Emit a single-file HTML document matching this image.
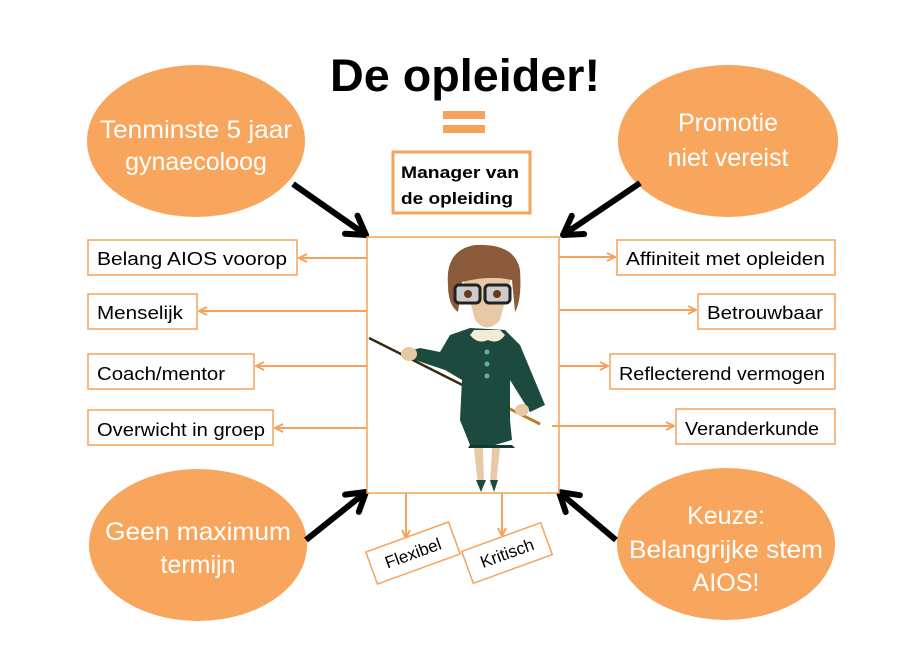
<!DOCTYPE html>
<html><head><meta charset="utf-8"><style>
body{margin:0;background:#fff;}
svg{display:block;font-family:"Liberation Sans",sans-serif;}
</style></head><body>
<svg width="904" height="648" viewBox="0 0 904 648" xmlns="http://www.w3.org/2000/svg">
<defs>
<marker id="oa" markerWidth="10" markerHeight="10" refX="9" refY="5" orient="auto" markerUnits="userSpaceOnUse"><path d="M1,1 L9,5 L1,9" fill="none" stroke="#F5A35C" stroke-width="2"/></marker>
<marker id="ba" markerWidth="30" markerHeight="30" refX="24" refY="15" orient="auto" markerUnits="userSpaceOnUse"><path d="M6,4 L24,15 L6,26" fill="none" stroke="#000" stroke-width="6" stroke-linecap="round" stroke-linejoin="round"/></marker>
</defs>
<text x="465" y="91" text-anchor="middle" font-size="45" font-weight="bold" fill="#000" textLength="270" lengthAdjust="spacingAndGlyphs">De opleider!</text>
<rect x="443" y="111" width="42" height="8" fill="#F5A35C"/>
<rect x="443" y="125" width="42" height="8" fill="#F5A35C"/>
<rect x="393" y="152" width="137" height="61" fill="#fff" stroke="#F5A35C" stroke-width="3"/>
<text x="401" y="178" font-size="17" font-weight="bold" textLength="118" lengthAdjust="spacingAndGlyphs">Manager van</text>
<text x="401" y="204" font-size="17" font-weight="bold" textLength="112" lengthAdjust="spacingAndGlyphs">de opleiding</text>

<g fill="#F8A65E">
<ellipse cx="196" cy="141" rx="109" ry="76"/>
<ellipse cx="728" cy="141" rx="110" ry="76"/>
<ellipse cx="198" cy="545" rx="109" ry="76"/>
<ellipse cx="726" cy="544" rx="109" ry="76"/>
</g>
<g fill="#fff" font-size="25" text-anchor="middle">
<text x="196" y="138" textLength="192" lengthAdjust="spacingAndGlyphs">Tenminste 5 jaar</text>
<text x="196" y="170">gynaecoloog</text>
<text x="728" y="131">Promotie</text>
<text x="728" y="166">niet vereist</text>
<text x="198" y="540" textLength="186" lengthAdjust="spacingAndGlyphs">Geen maximum</text>
<text x="198" y="573">termijn</text>
<text x="726" y="524">Keuze:</text>
<text x="726" y="558" textLength="194" lengthAdjust="spacingAndGlyphs">Belangrijke stem</text>
<text x="726" y="591">AIOS!</text>
</g>

<g stroke="#000" stroke-width="6" fill="none">
<line x1="293" y1="184" x2="366" y2="235" marker-end="url(#ba)"/>
<line x1="640" y1="183" x2="563" y2="235" marker-end="url(#ba)"/>
<line x1="306" y1="540" x2="366" y2="492" marker-end="url(#ba)"/>
<line x1="616" y1="540" x2="559" y2="492" marker-end="url(#ba)"/>
</g>

<rect x="367" y="237" width="192" height="256" fill="#fff" stroke="#F5A35C" stroke-width="1.5"/>

<g fill="#fff" stroke="#F5A35C" stroke-width="1.5">
<rect x="88" y="240" width="209" height="35"/>
<rect x="88" y="294" width="109" height="35"/>
<rect x="88" y="354" width="166" height="35"/>
<rect x="88" y="410" width="185" height="35"/>
<rect x="617" y="240" width="218" height="35"/>
<rect x="698" y="294" width="137" height="35"/>
<rect x="610" y="354" width="225" height="35"/>
<rect x="676" y="409" width="159" height="35"/>
</g>
<g font-size="18" fill="#000" lengthAdjust="spacingAndGlyphs">
<text x="97" y="265" textLength="190" lengthAdjust="spacingAndGlyphs">Belang AIOS voorop</text>
<text x="97" y="319" textLength="86" lengthAdjust="spacingAndGlyphs">Menselijk</text>
<text x="97" y="380" textLength="128" lengthAdjust="spacingAndGlyphs">Coach/mentor</text>
<text x="97" y="436" textLength="168" lengthAdjust="spacingAndGlyphs">Overwicht in groep</text>
<text x="626" y="265" textLength="199" lengthAdjust="spacingAndGlyphs">Affiniteit met opleiden</text>
<text x="707" y="319" textLength="116" lengthAdjust="spacingAndGlyphs">Betrouwbaar</text>
<text x="619" y="380" textLength="206" lengthAdjust="spacingAndGlyphs">Reflecterend vermogen</text>
<text x="685" y="435" textLength="134" lengthAdjust="spacingAndGlyphs">Veranderkunde</text>
</g>
<g stroke="#F5A35C" stroke-width="2" fill="none">
<line x1="367" y1="258" x2="299" y2="258" marker-end="url(#oa)"/>
<line x1="367" y1="311" x2="199" y2="311" marker-end="url(#oa)"/>
<line x1="367" y1="366" x2="256" y2="366" marker-end="url(#oa)"/>
<line x1="367" y1="428" x2="275" y2="428" marker-end="url(#oa)"/>
<line x1="559" y1="257" x2="615" y2="257" marker-end="url(#oa)"/>
<line x1="559" y1="310" x2="696" y2="310" marker-end="url(#oa)"/>
<line x1="559" y1="366" x2="608" y2="366" marker-end="url(#oa)"/>
<line x1="552" y1="426" x2="674" y2="426" marker-end="url(#oa)"/>
<line x1="406" y1="493" x2="406" y2="538" marker-end="url(#oa)"/>
<line x1="502" y1="493" x2="502" y2="536" marker-end="url(#oa)"/>
</g>
<g transform="translate(413,553) rotate(-20)">
<rect x="-44" y="-17" width="88" height="34" fill="#fff" stroke="#F5A35C" stroke-width="1.5"/>
<text x="0" y="6" text-anchor="middle" font-size="17">Flexibel</text>
</g>
<g transform="translate(507,553) rotate(-20)">
<rect x="-42" y="-17" width="84" height="34" fill="#fff" stroke="#F5A35C" stroke-width="1.5"/>
<text x="0" y="6" text-anchor="middle" font-size="17">Kritisch</text>
</g>

<g>
<line x1="369" y1="338" x2="540" y2="424" stroke="#3a2a10" stroke-width="2.5"/>
<line x1="470" y1="389" x2="540" y2="424" stroke="#b5862a" stroke-width="3"/>
<path d="M450 335 L470 328 L505 330 L520 345 L545 405 L530 412 L510 380 L510 420 L512 440 L495 445 L470 445 L460 420 L462 380 L445 370 L415 360 L405 352 L420 348 L440 352 Z" fill="#1d4a3e"/>
<path d="M470 445 L512 445 L515 448 L468 448 Z" fill="#143a30"/>
<path d="M474 448 L478 485 L484 485 L483 448 Z M492 448 L490 485 L496 485 L500 448Z" fill="#e8c9a6"/>
<path d="M476 480 L481 492 L486 480Z M490 480 L494 492 L498 480Z" fill="#1d4a3e"/>
<ellipse cx="409" cy="354" rx="8" ry="7" fill="#e8c9a6"/>
<ellipse cx="522" cy="410" rx="7" ry="6" fill="#e8c9a6"/>
<path d="M470 335 Q478 345 488 340 Q498 345 505 335 L500 330 L474 330Z" fill="#f3edd8"/>
<circle cx="487" cy="352" r="2.5" fill="#6aa"/><circle cx="487" cy="364" r="2.5" fill="#6aa"/><circle cx="487" cy="376" r="2.5" fill="#6aa"/>
<path d="M462 275 Q470 300 475 320 Q487 335 500 320 L512 275 Z" fill="#e8c9a6"/>
<path d="M448 285 Q445 250 475 245 Q515 243 520 270 Q522 300 515 312 L512 280 Q490 275 462 282 L458 312 Q448 305 448 285Z" fill="#8a5a3a"/>
<rect x="455" y="285" width="25" height="18" rx="4" fill="#ccc" stroke="#222" stroke-width="3"/>
<rect x="485" y="285" width="25" height="18" rx="4" fill="#ccc" stroke="#222" stroke-width="3"/>
<circle cx="468" cy="294" r="4" fill="#6a3a1a"/><circle cx="497" cy="294" r="4" fill="#6a3a1a"/>
</g>
</svg>
</body></html>
